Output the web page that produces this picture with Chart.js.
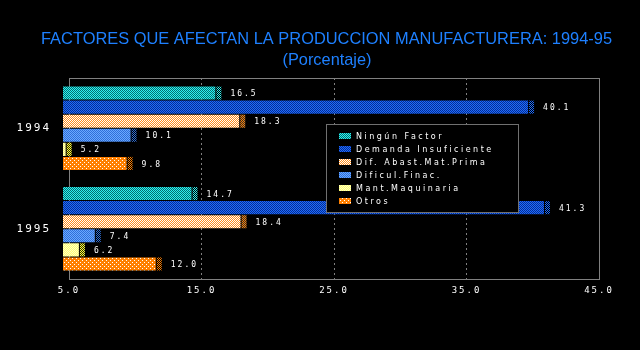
<!DOCTYPE html>
<html>
<head>
<meta charset="utf-8">
<script src="https://cdn.jsdelivr.net/npm/chart.js@4/dist/chart.umd.min.js"></script>
<style>
  html, body { margin: 0; background: #000; }
  #wrap { width: 640px; height: 350px; position: relative; }
</style>
</head>
<body>
<div id="wrap"><canvas id="chart"></canvas></div>
<script>
// Datos (porcentaje)
const years = ['1994', '1995'];
const factorNames = ['Ningún Factor', 'Demanda Insuficiente', 'Dif. Abast.Mat.Prima', 'Dificul.Finac.', 'Mant.Maquinaria', 'Otros'];
const ningunFactor = [16.5, 14.7];
const demandaInsuf = [40.1, 41.3];
const difAbast = [18.3, 18.4];
const dificulFinac = [10.1, 7.4];
const mantMaquinaria = [5.2, 6.2];
const otros = [9.8, 12.0];
const xTicks = [5, 15, 25, 35, 45];

const TITLE = 'FACTORES QUE AFECTAN LA PRODUCCION MANUFACTURERA: 1994-95';
const SUBTITLE = '(Porcentaje)';

// dither fills like the old DOS chart
function checker(a, b) {
    const c = document.createElement('canvas');
    c.width = 2; c.height = 2;
    const g = c.getContext('2d');
    g.fillStyle = a; g.fillRect(0, 0, 2, 2);
    g.fillStyle = b; g.fillRect(0, 0, 1, 1); g.fillRect(1, 1, 1, 1);
    return g.createPattern(c, 'repeat');
}
function dotted(base, dot) {
    const c = document.createElement('canvas');
    c.width = 4; c.height = 4;
    const g = c.getContext('2d');
    g.fillStyle = base; g.fillRect(0, 0, 4, 4);
    g.fillStyle = dot; g.fillRect(0, 0, 1, 1); g.fillRect(2, 2, 1, 1);
    return g.createPattern(c, 'repeat');
}

const fills = [
    checker('#30f0f0', '#007070'),
    checker('#1a6aff', '#0a2f8f'),
    checker('#ff8c1a', '#ffffff'),
    checker('#6aa8ff', '#2f6fd8'),
    checker('#ffff70', '#ffffc8'),
    dotted('#ff8000', '#ffffff')
];
const capFills = [
    checker('#30f0f0', '#000000'),
    checker('#1a6aff', '#000000'),
    checker('#ff8000', '#303030'),
    checker('#2f6fd8', '#000000'),
    checker('#ffff40', '#303000'),
    checker('#ff8000', '#000000')
];

const seriesData = [ningunFactor, demandaInsuf, difAbast, dificulFinac, mantMaquinaria, otros];

const DEPTH = 6;

const oldStyle = {
    id: 'oldStyle',
    beforeDraw(chart) {
        chart.ctx.letterSpacing = '2px';
    },
    beforeDatasetsDraw(chart) {
        const { ctx, chartArea: a } = chart;
        ctx.save();
        ctx.strokeStyle = '#808080';
        ctx.lineWidth = 1;
        ctx.strokeRect(a.left + 0.5, a.top + 0.5, a.right - a.left, a.bottom - a.top);
        ctx.restore();
        // front faces are shifted left, the side face goes up to the value
        ctx.save();
        ctx.translate(-DEPTH, 0);
    },
    afterDatasetsDraw(chart) {
        const ctx = chart.ctx;
        ctx.restore();

        ctx.save();
        ctx.font = '8px "DejaVu Sans Mono"';
        ctx.letterSpacing = '2px';
        ctx.fillStyle = '#ffffff';
        ctx.textBaseline = 'middle';
        chart.data.datasets.forEach((ds, i) => {
            chart.getDatasetMeta(i).data.forEach((bar, j) => {
                const top = bar.y - bar.height / 2;
                ctx.fillStyle = capFills[i];
                ctx.fillRect(bar.x - DEPTH + 1, top, DEPTH - 1, bar.height);
                ctx.fillStyle = '#ffffff';
                ctx.fillText(ds.data[j].toFixed(1), bar.x + 9, bar.y + 1);
            });
        });
        ctx.restore();

        // legend box over the plot
        const bx = 326, by = 124, bw = 192, bh = 88;
        ctx.save();
        ctx.fillStyle = '#000';
        ctx.fillRect(bx, by, bw, bh);
        ctx.strokeStyle = '#707070';
        ctx.lineWidth = 1;
        ctx.strokeRect(bx + 0.5, by + 0.5, bw, bh);
        ctx.font = '8px "DejaVu Sans"';
        ctx.letterSpacing = '2.5px';
        ctx.textBaseline = 'middle';
        chart.data.datasets.forEach((ds, i) => {
            const y = by + 12 + i * 13;
            ctx.fillStyle = fills[i];
            ctx.fillRect(339, y - 3, 12, 6);
            ctx.fillStyle = '#ffffff';
            ctx.fillText(ds.label, 356, y + 1);
        });
        ctx.restore();
    },
    afterDraw(chart) {
        const ctx = chart.ctx;
        ctx.save();
        ctx.letterSpacing = '0px';
        ctx.fillStyle = '#1e80ff';
        ctx.textAlign = 'center';
        ctx.textBaseline = 'middle';
        ctx.font = '17px "Liberation Sans"';
        let w = ctx.measureText(TITLE).width;
        ctx.save();
        ctx.translate(326.5, 39);
        ctx.scale(571 / w, 1);
        ctx.fillText(TITLE, 0, 0);
        ctx.restore();
        w = ctx.measureText(SUBTITLE).width;
        ctx.translate(327, 60);
        ctx.scale(89 / w, 1);
        ctx.fillText(SUBTITLE, 0, 0);
        ctx.restore();
    }
};

new Chart(document.getElementById('chart'), {
    type: 'bar',
    data: {
        labels: years,
        datasets: factorNames.map((name, i) => ({
            label: name,
            data: seriesData[i],
            backgroundColor: fills[i],
            borderWidth: 0,
            categoryPercentage: 0.84,
            barPercentage: 0.93
        }))
    },
    options: {
        indexAxis: 'y',
        responsive: true,
        maintainAspectRatio: false,
        animation: false,
        layout: { padding: { top: 78, right: 41, left: 0, bottom: 0 } },
        plugins: {
            legend: { display: false },
            tooltip: { enabled: false }
        },
        scales: {
            x: {
                min: 5,
                max: 45,
                afterBuildTicks: scale => { scale.ticks = xTicks.map(v => ({ value: v })); },
                afterFit: scale => { scale.height = 71; },
                grid: {
                    drawTicks: false,
                    color: ctx => (ctx.index === 0 || ctx.index === xTicks.length - 1) ? 'rgba(0,0,0,0)' : '#808080'
                },
                border: { display: false, dash: [2, 3] },
                ticks: {
                    color: '#ffffff',
                    padding: 6,
                    font: { family: '"DejaVu Sans Mono"', size: 9 },
                    callback: v => Number(v).toFixed(1)
                }
            },
            y: {
                afterFit: scale => { scale.width = 69; },
                grid: { display: false },
                border: { display: false },
                ticks: {
                    color: '#ffffff',
                    padding: 10,
                    font: { family: '"DejaVu Sans Mono"', size: 11 }
                }
            }
        }
    },
    plugins: [oldStyle]
});
</script>
</body>
</html>
